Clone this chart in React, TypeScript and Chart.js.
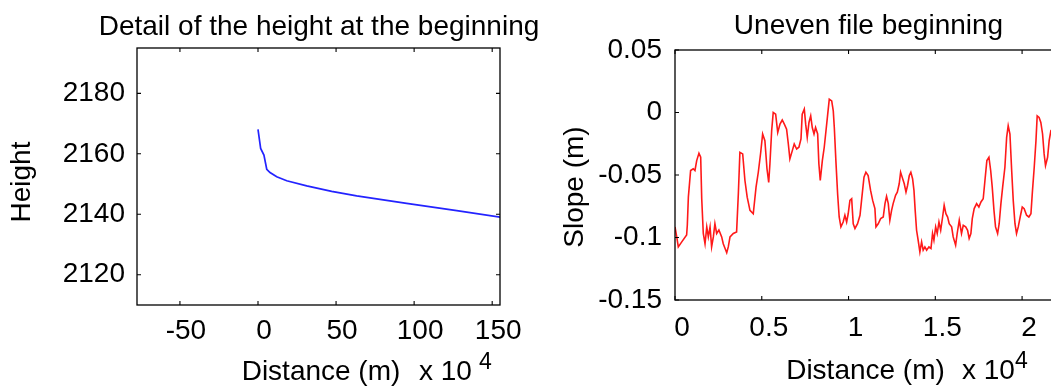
import React, { useEffect, useRef } from "react";
import { Chart, registerables } from "chart.js";

Chart.register(...registerables);

// Height profile near the start of the track
const heightDistance = [0, 1.7, 3.8, 5.6, 7.7, 12, 18.4, 31.2, 47.2, 63.2, 95.2, 127.3, 156.1];
const heightValues = [2168.1, 2161.8, 2159.6, 2154.9, 2153.8, 2152.4, 2151.1, 2149.4, 2147.6, 2146.1, 2143.6, 2141.2, 2139.0];
const heightXTicks = [-50, 0, 50, 100, 150];
const heightYTicks = [2120, 2140, 2160, 2180];

// Slope along the first part of the file (distance in units of 10^4 m)
const slopeDistance = [
  0.0, 0.01, 0.019, 0.039, 0.067, 0.071, 0.077, 0.09, 0.105, 0.115, 0.125, 0.138, 0.148, 0.154, 0.163,
  0.173, 0.183, 0.192, 0.202, 0.211, 0.221, 0.23, 0.24, 0.253, 0.269, 0.278, 0.298, 0.307, 0.317, 0.336,
  0.355, 0.365, 0.374, 0.39, 0.403, 0.416, 0.432, 0.451, 0.467, 0.48, 0.494, 0.505, 0.518, 0.53, 0.54,
  0.547, 0.557, 0.566, 0.58, 0.592, 0.605, 0.618, 0.63, 0.643, 0.653, 0.662, 0.676, 0.687, 0.701, 0.714,
  0.726, 0.733, 0.745, 0.753, 0.762, 0.772, 0.782, 0.791, 0.801, 0.81, 0.822, 0.829, 0.837, 0.849, 0.86,
  0.87, 0.88, 0.889, 0.903, 0.912, 0.918, 0.927, 0.937, 0.946, 0.956, 0.969, 0.979, 0.989, 0.998, 1.008,
  1.018, 1.027, 1.037, 1.052, 1.066, 1.075, 1.089, 1.1, 1.113, 1.127, 1.139, 1.152, 1.158, 1.171, 1.185,
  1.2, 1.21, 1.219, 1.229, 1.238, 1.248, 1.257, 1.271, 1.281, 1.292, 1.3, 1.309, 1.321, 1.331, 1.34,
  1.35, 1.359, 1.369, 1.377, 1.384, 1.392, 1.401, 1.411, 1.421, 1.43, 1.44, 1.45, 1.463, 1.475, 1.484,
  1.492, 1.502, 1.511, 1.521, 1.531, 1.542, 1.551, 1.561, 1.571, 1.58, 1.594, 1.603, 1.617, 1.626, 1.638,
  1.651, 1.661, 1.675, 1.686, 1.695, 1.705, 1.713, 1.724, 1.738, 1.751, 1.763, 1.776, 1.786, 1.797, 1.809,
  1.819, 1.828, 1.838, 1.847, 1.859, 1.868, 1.878, 1.888, 1.901, 1.911, 1.92, 1.93, 1.94, 1.949, 1.959,
  1.968, 1.978, 1.989, 2.001, 2.012, 2.026, 2.039, 2.051, 2.06, 2.07, 2.08, 2.087, 2.098, 2.108, 2.118,
  2.127, 2.135, 2.147, 2.156, 2.166, 2.185, 2.205, 2.23,
];
const slopeValues = [
  -0.0915, -0.0995, -0.1075, -0.1035, -0.098, -0.09, -0.0677, -0.0464, -0.045, -0.0464, -0.0385, -0.0326, -0.0358, -0.069, -0.0968,
  -0.105, -0.0915, -0.0995, -0.0915, -0.1075, -0.0995, -0.089, -0.0968, -0.094, -0.0995, -0.105, -0.1122, -0.1075, -0.0995, -0.0968,
  -0.0955, -0.065, -0.0318, -0.0331, -0.0544, -0.0677, -0.0783, -0.081, -0.0597, -0.0478, -0.0318, -0.0172, -0.0225, -0.045, -0.056,
  -0.041, -0.0146, 0.0, -0.0013, -0.016, -0.0093, -0.006, -0.0093, -0.0133, -0.0252, -0.0371, -0.0305, -0.0252, -0.0292, -0.0278,
  -0.0212, -0.0013, 0.0027, -0.0093, -0.0199, -0.008, -0.0027, -0.012, -0.0172, -0.012, -0.0172, -0.041, -0.0544, -0.0385, -0.0278,
  -0.0146, -0.0013, 0.0107, 0.0093, 0.0013, -0.012, -0.0385, -0.065, -0.0836, -0.0915, -0.0876, -0.0822, -0.0876, -0.081, -0.0703,
  -0.069, -0.089, -0.0928, -0.089, -0.0822, -0.0703, -0.0517, -0.0478, -0.0504, -0.0623, -0.0703, -0.0769, -0.0915, -0.089, -0.0849,
  -0.0836, -0.0729, -0.0671, -0.0729, -0.0862, -0.0783, -0.0729, -0.0663, -0.0637, -0.057, -0.0478, -0.0517, -0.057, -0.0637, -0.0584,
  -0.0504, -0.0478, -0.053, -0.0623, -0.0783, -0.0942, -0.1021, -0.1115, -0.1035, -0.1101, -0.1075, -0.1101, -0.1075, -0.1088, -0.0968,
  -0.1021, -0.0915, -0.0968, -0.0876, -0.0942, -0.0836, -0.0743, -0.081, -0.0836, -0.089, -0.0915, -0.0995, -0.1061, -0.0968, -0.0862,
  -0.0968, -0.0902, -0.0915, -0.0942, -0.1008, -0.0968, -0.0849, -0.0769, -0.0729, -0.0756, -0.0716, -0.069, -0.0544, -0.0385, -0.0358,
  -0.0464, -0.0597, -0.0783, -0.0915, -0.0968, -0.089, -0.0729, -0.0597, -0.0438, -0.0199, -0.0106, -0.0172, -0.0464, -0.0703, -0.089,
  -0.0968, -0.0915, -0.0836, -0.0756, -0.0769, -0.0822, -0.0836, -0.081, -0.0623, -0.0438, -0.0225, -0.0027, -0.004, -0.008, -0.0172,
  -0.0331, -0.0424, -0.0358, -0.0225, -0.0146, -0.012, -0.018, -0.016,
];
const slopeXTicks = [0, 0.5, 1, 1.5, 2];
const slopeYTicks = [-0.15, -0.1, -0.05, 0, 0.05];

const FONT = '"Liberation Sans", Arial, sans-serif';
const TEXT = "#000";
const FONT_SIZE = 28;

type Labels = {
  title: string;
  titleX: number;
  titleY: number;
  yLabel: string;
  yLabelX: number;
  yLabelY: number;
  xLabel: string;
  xLabelX: number;
  xLabelY: number;
  expX: number;
  expSupX: number;
};

// Draws the axes box with inward ticks on all four sides, plus titles and labels
const framePlugin = {
  id: "frame",
  afterDatasetsDraw(chart: any, _args: any, opts: Labels) {
    const { ctx, chartArea: a, scales } = chart;
    const tl = 4;
    ctx.save();
    ctx.strokeStyle = "#000";
    ctx.lineWidth = 1.3;
    ctx.strokeRect(a.left, a.top, a.right - a.left, a.bottom - a.top);
    ctx.lineWidth = 1.1;
    ctx.beginPath();
    scales.x.ticks.forEach((t: any) => {
      const px = scales.x.getPixelForValue(t.value);
      ctx.moveTo(px, a.bottom);
      ctx.lineTo(px, a.bottom - tl);
      ctx.moveTo(px, a.top);
      ctx.lineTo(px, a.top + tl);
    });
    scales.y.ticks.forEach((t: any) => {
      const py = scales.y.getPixelForValue(t.value);
      ctx.moveTo(a.left, py);
      ctx.lineTo(a.left + tl, py);
      ctx.moveTo(a.right, py);
      ctx.lineTo(a.right - tl, py);
    });
    ctx.stroke();

    ctx.fillStyle = TEXT;
    ctx.font = `${FONT_SIZE}px ${FONT}`;
    ctx.textBaseline = "alphabetic";
    ctx.textAlign = "center";
    ctx.fillText(opts.title, opts.titleX, opts.titleY);
    ctx.fillText(opts.xLabel, opts.xLabelX, opts.xLabelY);
    ctx.textAlign = "left";
    ctx.fillText("x 10", opts.expX, opts.xLabelY);
    ctx.font = `23px ${FONT}`;
    ctx.fillText("4", opts.expSupX, opts.xLabelY - 11);

    ctx.font = `${FONT_SIZE}px ${FONT}`;
    ctx.translate(opts.yLabelX, opts.yLabelY);
    ctx.rotate(-Math.PI / 2);
    ctx.textAlign = "center";
    ctx.textBaseline = "middle";
    ctx.fillText(opts.yLabel, 0, 0);
    ctx.restore();
  },
};

function buildConfig(p: {
  xs: number[];
  ys: number[];
  color: string;
  width: number;
  xMin: number;
  xMax: number;
  yMin: number;
  yMax: number;
  xTicks: number[];
  yTicks: number[];
  padding: { left: number; top: number; right: number; bottom: number };
  yAxisWidth: number;
  xAxisHeight: number;
  xTickPad: number;
  xLabelShift: number;
  yTickPad: number;
  labels: Labels;
}): any {
  const tickFont = { family: FONT, size: FONT_SIZE };
  return {
    type: "line",
    data: {
      datasets: [
        {
          data: p.xs.map((x, i) => ({ x, y: p.ys[i] })),
          borderColor: p.color,
          borderWidth: p.width,
          pointRadius: 0,
          fill: false,
          tension: 0,
        },
      ],
    },
    options: {
      responsive: false,
      animation: false,
      devicePixelRatio: 1,
      layout: { padding: p.padding },
      plugins: {
        legend: { display: false },
        tooltip: { enabled: false },
        frame: p.labels,
      },
      scales: {
        x: {
          type: "linear",
          min: p.xMin,
          max: p.xMax,
          afterFit: (s: any) => {
            s.height = p.xAxisHeight;
          },
          afterBuildTicks: (s: any) => {
            s.ticks = p.xTicks.map((value) => ({ value }));
          },
          grid: { display: false, drawTicks: false },
          border: { display: false },
          ticks: {
            font: tickFont,
            color: TEXT,
            padding: p.xTickPad,
            labelOffset: p.xLabelShift,
            maxRotation: 0,
            autoSkip: false,
            callback: (v: number) => String(v),
          },
        },
        y: {
          type: "linear",
          min: p.yMin,
          max: p.yMax,
          afterFit: (s: any) => {
            s.width = p.yAxisWidth;
          },
          afterBuildTicks: (s: any) => {
            s.ticks = p.yTicks.map((value) => ({ value }));
          },
          grid: { display: false, drawTicks: false },
          border: { display: false },
          ticks: {
            font: tickFont,
            color: TEXT,
            padding: p.yTickPad,
            autoSkip: false,
            callback: (v: number) => String(v),
          },
        },
      },
    },
    plugins: [framePlugin],
  };
}

export default function App() {
  const leftRef = useRef<HTMLCanvasElement | null>(null);
  const rightRef = useRef<HTMLCanvasElement | null>(null);

  useEffect(() => {
    const left = new Chart(
      leftRef.current as HTMLCanvasElement,
      buildConfig({
        xs: heightDistance,
        ys: heightValues,
        color: "rgb(35,35,255)",
        width: 1.7,
        xMin: -77.5,
        xMax: 155,
        yMin: 2110,
        yMax: 2195,
        xTicks: heightXTicks,
        yTicks: heightYTicks,
        padding: { left: 0, top: 48, right: 50, bottom: 0 },
        yAxisWidth: 137,
        xAxisHeight: 87,
        xTickPad: 9,
        xLabelShift: 6,
        yTickPad: 12,
        labels: {
          title: "Detail of the height at the beginning",
          titleX: 319,
          titleY: 35,
          yLabel: "Height",
          yLabelX: 22,
          yLabelY: 182,
          xLabel: "Distance (m)",
          xLabelX: 321,
          xLabelY: 380,
          expX: 419,
          expSupX: 479,
        },
      })
    );
    const right = new Chart(
      rightRef.current as HTMLCanvasElement,
      buildConfig({
        xs: slopeDistance,
        ys: slopeValues,
        color: "rgb(255,25,25)",
        width: 1.6,
        xMin: 0,
        xMax: 2.23,
        yMin: -0.15,
        yMax: 0.05,
        xTicks: slopeXTicks,
        yTicks: slopeYTicks,
        padding: { left: 0, top: 50, right: 18, bottom: 0 },
        yAxisWidth: 125,
        xAxisHeight: 92,
        xTickPad: 11,
        xLabelShift: 7,
        yTickPad: 13,
        labels: {
          title: "Uneven file beginning",
          titleX: 318.5,
          titleY: 34,
          yLabel: "Slope (m)",
          yLabelX: 25,
          yLabelY: 187,
          xLabel: "Distance (m)",
          xLabelX: 315.5,
          xLabelY: 379,
          expX: 412,
          expSupX: 465,
        },
      })
    );
    return () => {
      left.destroy();
      right.destroy();
    };
  }, []);

  return (
    <div
      style={{
        position: "fixed",
        left: 0,
        top: 0,
        width: 1051,
        height: 392,
        overflow: "hidden",
        background: "#fff",
      }}
    >
      <canvas
        ref={leftRef}
        width={550}
        height={392}
        style={{ position: "absolute", left: 0, top: 0, width: 550, height: 392 }}
      />
      <canvas
        ref={rightRef}
        width={530}
        height={392}
        style={{ position: "absolute", left: 550, top: 0, width: 530, height: 392 }}
      />
    </div>
  );
}
